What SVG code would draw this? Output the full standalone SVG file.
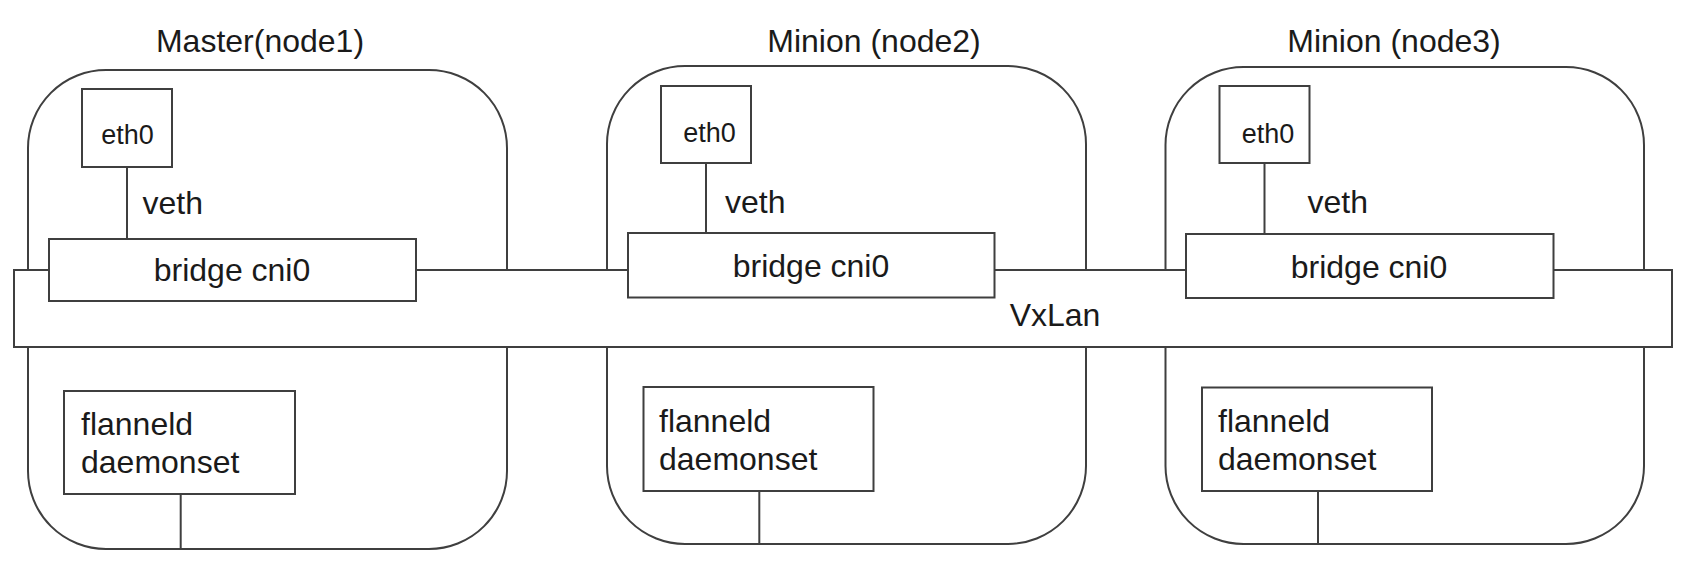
<svg xmlns="http://www.w3.org/2000/svg" width="1684" height="576" viewBox="0 0 1684 576">
<style>
  .box{fill:#ffffff;stroke:#3f3f3f;stroke-width:2}
  .ln{fill:none;stroke:#3f3f3f;stroke-width:2}
  text{font-family:"Liberation Sans",Arial,sans-serif;fill:#1a1a1a;font-size:32px}
  .mid{text-anchor:middle}
  .sm{font-size:27px}
</style>
<rect x="0" y="0" width="1684" height="576" fill="#ffffff"/>

<!-- host containers -->
<g id="node1">
  <rect class="box" x="28" y="70" width="479" height="479" rx="78" ry="78"/>
  <text class="mid" x="260" y="52">Master(node1)</text>
</g>
<g id="node2">
  <rect class="box" x="607" y="66" width="479" height="478" rx="78" ry="78"/>
  <text class="mid" x="874" y="52">Minion (node2)</text>
</g>
<g id="node3">
  <rect class="box" x="1165.5" y="67" width="478.5" height="477" rx="78" ry="78"/>
  <text class="mid" x="1394" y="52">Minion (node3)</text>
</g>

<!-- overlay network -->
<g id="vxlan">
  <rect class="box" x="14" y="270" width="1658" height="77"/>
  <text class="mid" x="1055" y="326">VxLan</text>
</g>

<!-- bridges -->
<g id="bridge1">
  <rect class="box" x="49" y="239" width="367" height="62"/>
  <text class="mid" x="232" y="281">bridge cni0</text>
</g>
<g id="bridge2">
  <rect class="box" x="628" y="233" width="366.5" height="64.5"/>
  <text class="mid" x="811" y="277">bridge cni0</text>
</g>
<g id="bridge3">
  <rect class="box" x="1186" y="234" width="367.5" height="64"/>
  <text class="mid" x="1369" y="277.5">bridge cni0</text>
</g>

<!-- eth0 interfaces -->
<g id="eth0-1">
  <rect class="box" x="82" y="89" width="90" height="78"/>
  <text class="mid sm" x="127.5" y="144">eth0</text>
</g>
<g id="eth0-2">
  <rect class="box" x="661" y="86" width="90" height="77"/>
  <text class="mid sm" x="709.5" y="142">eth0</text>
</g>
<g id="eth0-3">
  <rect class="box" x="1219.5" y="86" width="90" height="77"/>
  <text class="mid sm" x="1268" y="143">eth0</text>
</g>

<!-- flanneld daemonsets -->
<g id="flanneld1">
  <rect class="box" x="64" y="391" width="231" height="103"/>
  <text x="81" y="435">flanneld</text>
  <text x="81" y="473">daemonset</text>
</g>
<g id="flanneld2">
  <rect class="box" x="643.5" y="387" width="230" height="104"/>
  <text x="659" y="432">flanneld</text>
  <text x="659" y="470">daemonset</text>
</g>
<g id="flanneld3">
  <rect class="box" x="1202" y="387.5" width="230" height="103.5"/>
  <text x="1218" y="432">flanneld</text>
  <text x="1218" y="470">daemonset</text>
</g>

<!-- connectors -->
<g id="connectors">
  <line class="ln" x1="127" y1="167" x2="127" y2="239"/>
  <line class="ln" x1="706" y1="163" x2="706" y2="233"/>
  <line class="ln" x1="1264.5" y1="163" x2="1264.5" y2="234"/>
  <line class="ln" x1="180.7" y1="494" x2="180.7" y2="549"/>
  <line class="ln" x1="759.3" y1="491" x2="759.3" y2="544"/>
  <line class="ln" x1="1318" y1="491" x2="1318" y2="544"/>
</g>
<g id="labels">
  <text x="142.5" y="214">veth</text>
  <text x="725" y="213">veth</text>
  <text x="1307.5" y="213">veth</text>
</g>
</svg>
